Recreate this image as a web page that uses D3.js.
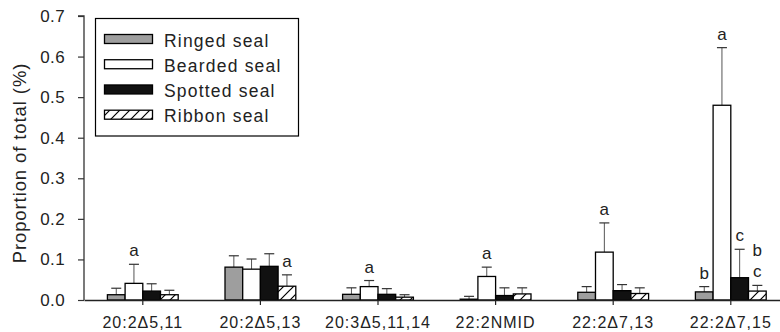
<!DOCTYPE html>
<html>
<head>
<meta charset="utf-8">
<script src="https://cdn.jsdelivr.net/npm/d3@7"></script>
<style>
  body { margin: 0; background: #fff; }
  svg { display: block; font-family: "Liberation Sans", Arial, sans-serif; }
</style>
</head>
<body>
<svg width="780" height="332"></svg>
<script>
// data
const categories = ["20:2\u03945,11", "20:2\u03945,13", "20:3\u03945,11,14", "22:2NMID", "22:2\u03947,13", "22:2\u03947,15"];
const seriesNames = ["Ringed seal", "Bearded seal", "Spotted seal", "Ribbon seal"];

const ringedMean   = [0.013, 0.081, 0.014, 0.002, 0.019, 0.020];
const ringedErr    = [0.029, 0.109, 0.030, 0.009, 0.033, 0.033];
const beardedMean  = [0.041, 0.076, 0.033, 0.058, 0.118, 0.480];
const beardedErr   = [0.088, 0.101, 0.048, 0.081, 0.190, 0.622];
const spottedMean  = [0.022, 0.083, 0.014, 0.011, 0.023, 0.055];
const spottedErr   = [0.040, 0.114, 0.028, 0.030, 0.038, 0.125];
const ribbonMean   = [0.013, 0.034, 0.007, 0.015, 0.016, 0.022];
const ribbonErr    = [0.024, 0.062, 0.013, 0.030, 0.030, 0.036];

// significance letters (bottom first when stacked)
const ringedLetters  = ["", "", "", "", "", "b"];
const beardedLetters = ["a", "", "a", "a", "a", "a"];
const spottedLetters = ["", "", "", "", "", "c"];
const ribbonLetters  = ["", "a", "", "", "", "c b"];

const yTicks = [0, 0.1, 0.2, 0.3, 0.4, 0.5, 0.6, 0.7];

const means = [ringedMean, beardedMean, spottedMean, ribbonMean];
const errs = [ringedErr, beardedErr, spottedErr, ribbonErr];
const letters = [ringedLetters, beardedLetters, spottedLetters, ribbonLetters];

const svg = d3.select("svg");
const mLeft = 84, mTop = 16, mBottom = 300;
const step = 117.6;

const defs = svg.append("defs");
const pat = defs.append("pattern")
    .attr("id", "hatch")
    .attr("patternUnits", "userSpaceOnUse")
    .attr("width", 10).attr("height", 10);
pat.append("rect").attr("width", 10).attr("height", 10).attr("fill", "#fff");
pat.append("path").attr("d", "M-2,12 L12,-2 M-2,2 L2,-2 M8,12 L12,8")
    .attr("stroke", "#000").attr("stroke-width", 1.2);

const fills = ["#9e9e9e", "#ffffff", "#111111", "url(#hatch)"];

const x0 = d3.scaleBand().domain(categories).range([mLeft, mLeft + step * categories.length]);
const x1 = d3.scaleBand().domain(seriesNames)
    .range([x0.bandwidth() / 2 - 35.4, x0.bandwidth() / 2 + 35.4]);
const y = d3.scaleLinear().domain([0, 0.7]).range([mBottom, mTop]);

// bars, error bars, letters
const rows = [];
categories.forEach((c, ci) => {
    seriesNames.forEach((s, si) => {
        rows.push({ c, s, si, v: means[si][ci], e: errs[si][ci], l: letters[si][ci] });
    });
});

const g = svg.append("g");

g.selectAll("line.err")
    .data(rows)
    .enter().append("line")
    .attr("x1", d => x0(d.c) + x1(d.s) + x1.bandwidth() / 2)
    .attr("x2", d => x0(d.c) + x1(d.s) + x1.bandwidth() / 2)
    .attr("y1", d => y(d.v))
    .attr("y2", d => y(d.e))
    .attr("stroke", "#555").attr("stroke-width", 1);

g.selectAll("line.cap")
    .data(rows)
    .enter().append("line")
    .attr("x1", d => x0(d.c) + x1(d.s) + x1.bandwidth() / 2 - 5)
    .attr("x2", d => x0(d.c) + x1(d.s) + x1.bandwidth() / 2 + 5)
    .attr("y1", d => y(d.e))
    .attr("y2", d => y(d.e))
    .attr("stroke", "#333").attr("stroke-width", 1.2);

g.selectAll("rect.bar")
    .data(rows)
    .enter().append("rect")
    .attr("x", d => x0(d.c) + x1(d.s))
    .attr("y", d => y(d.v))
    .attr("width", x1.bandwidth())
    .attr("height", d => mBottom - y(d.v))
    .attr("fill", d => fills[d.si])
    .attr("stroke", "#000")
    .attr("stroke-width", 1.3);

rows.filter(d => d.l).forEach(d => {
    d.l.split(" ").forEach((t, k) => {
        g.append("text")
            .attr("x", x0(d.c) + x1(d.s) + x1.bandwidth() / 2)
            .attr("y", y(d.e) - 8 - k * 21)
            .attr("text-anchor", "middle")
            .attr("font-size", 17)
            .attr("fill", "#222")
            .text(t);
    });
});

// y axis
const yAxis = svg.append("g")
    .attr("transform", `translate(${mLeft},0)`)
    .call(d3.axisLeft(y).tickValues(yTicks).tickFormat(d3.format(".1f")).tickSize(6).tickPadding(13));
yAxis.select(".domain").attr("stroke", "#333").attr("stroke-width", 1.3).attr("d", `M-6,${mTop}H0V${mBottom}`);
yAxis.selectAll(".tick line").attr("stroke", "#333").attr("stroke-width", 1.2);
yAxis.selectAll(".tick text").attr("font-size", 17).attr("fill", "#222")
    .attr("letter-spacing", 0.4)
    .attr("font-family", "'Liberation Sans', Arial, sans-serif");

// x axis
const xAxis = svg.append("g")
    .attr("transform", `translate(0,${mBottom})`)
    .call(d3.axisBottom(x0).tickSize(5).tickPadding(12).tickSizeOuter(0));
xAxis.select(".domain").attr("stroke", "#222").attr("stroke-width", 1.3);
xAxis.selectAll(".tick line").attr("stroke", "#222").attr("stroke-width", 1.2);
xAxis.selectAll(".tick text").attr("font-size", 16).attr("fill", "#222")
    .attr("letter-spacing", 1)
    .attr("font-family", "'Liberation Sans', Arial, sans-serif");

// y title
svg.append("text")
    .attr("transform", "translate(26,163) rotate(-90)")
    .attr("text-anchor", "middle")
    .attr("font-size", 18.5)
    .attr("letter-spacing", 0.9)
    .attr("fill", "#222")
    .text("Proportion of total (%)");

// legend
const lg = svg.append("g");
lg.append("rect")
    .attr("x", 95.5).attr("y", 18.5).attr("width", 203).attr("height", 117.5)
    .attr("fill", "#fff").attr("stroke", "#000").attr("stroke-width", 1.2);
const ly = d3.scalePoint().domain(seriesNames).range([39, 114.7]);
lg.selectAll("rect.sw")
    .data(seriesNames)
    .enter().append("rect")
    .attr("x", 104.5).attr("y", d => ly(d) - 4.5)
    .attr("width", 48).attr("height", 9)
    .attr("fill", (d, i) => fills[i])
    .attr("stroke", "#000").attr("stroke-width", 1.3);
lg.selectAll("text")
    .data(seriesNames)
    .enter().append("text")
    .attr("x", 164).attr("y", d => ly(d) + 7.5)
    .attr("font-size", 17.5)
    .attr("letter-spacing", 1.2)
    .attr("fill", "#222")
    .text(d => d);
</script>
</body>
</html>
